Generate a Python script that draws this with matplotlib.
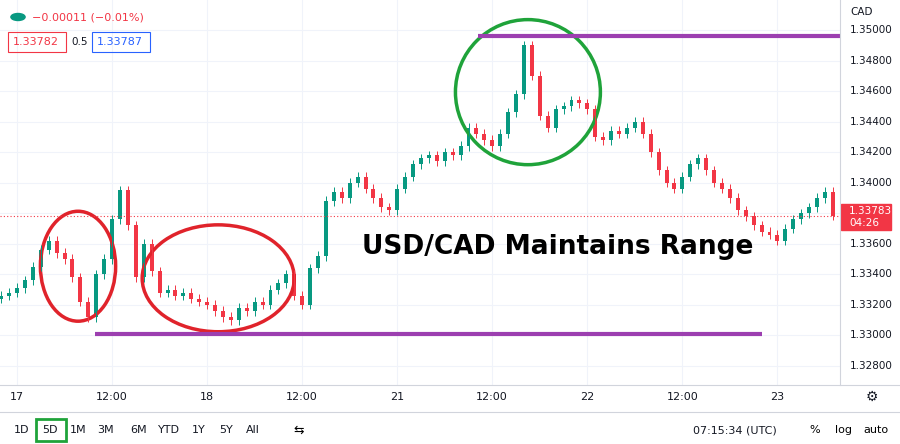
import matplotlib
matplotlib.use("Agg")
import matplotlib.pyplot as plt
from matplotlib.patches import Ellipse, Rectangle
import numpy as np

hours = list(range(-2, 104))
closes = [1.3326,1.3328,1.3331,1.3336,1.3345,1.3356,1.3362,1.3354,1.3350,1.3338,
          1.3322,1.3312,1.3340,1.3350,1.3376,1.3395,1.3372,1.3338,1.3360,1.3342,
          1.3328,1.3330,1.3326,1.3328,1.3324,1.3322,1.3320,1.3316,1.3312,1.3310,
          1.3318,1.3316,1.3322,1.3320,1.3330,1.3334,1.3340,1.3326,1.3320,1.3344,
          1.3352,1.3388,1.3394,1.3390,1.3400,1.3404,1.3396,1.3390,1.3384,1.3382,
          1.3396,1.3404,1.3412,1.3416,1.3418,1.3414,1.3420,1.3418,1.3424,1.3436,
          1.3432,1.3428,1.3424,1.3432,1.3446,1.3458,1.3490,1.3470,1.3444,1.3436,
          1.3448,1.3450,1.3454,1.3452,1.3448,1.3430,1.3428,1.3434,1.3432,1.3436,
          1.3440,1.3432,1.3420,1.3408,1.3400,1.3396,1.3404,1.3412,1.3416,1.3408,
          1.3400,1.3396,1.3390,1.3382,1.3378,1.3372,1.3368,1.3366,1.3362,1.3370,
          1.3376,1.3380,1.3384,1.3390,1.3394,1.33783]
tick_pos = [0, 12, 24, 36, 48, 60, 72, 84, 96]
tick_lbl = ["17", "12:00", "18", "12:00", "21", "12:00", "22", "12:00", "23"]
price_ticks = [1.328, 1.330, 1.332, 1.334, 1.336, 1.338, 1.340, 1.342, 1.344, 1.346, 1.348, 1.350]
range_low, range_high = 1.3301, 1.34961
last_price = 1.33783

fig = plt.figure(figsize=(9, 4.44), dpi=100)
ax = fig.add_axes([0, 59/444, 840/900, 385/444])
ylo = 1.35 - (385-30)/15270
yhi = 1.35 + 30/15270
ax.set_ylim(ylo, yhi)
ax.set_xlim(-2.15, 103.9)

up, dn = '#089981', '#f23645'
prev = closes[0] - 0.0002
for t, c in zip(hours, closes):
    o = prev
    col = up if c >= o else dn
    hi = max(o, c) + 0.0003
    lo = min(o, c) - 0.0003
    ax.vlines(t, lo, hi, color=col, lw=0.7)
    ax.add_patch(Rectangle((t-0.25, min(o, c)), 0.5, max(abs(c-o), 0.00003), color=col, lw=0))
    prev = c

for p in price_ticks:
    ax.axhline(p, color='#f0f3fa', lw=0.8, zorder=0)
for t in tick_pos:
    ax.axvline(t, color='#f0f3fa', lw=0.8, zorder=0)
ax.set_xticks([]); ax.set_yticks([])
for s in ax.spines.values():
    s.set_visible(False)

ax.axhline(last_price, color=dn, lw=0.8, ls=(0, (1, 2)))
ax.hlines(range_high, 58.2, 103.9, color='#9c3fb0', lw=3)
ax.hlines(range_low, 9.85, 94.1, color='#9c3fb0', lw=3)
ax.add_patch(Ellipse((7.7, 1.33453), 9.5, 0.0072, fill=False, ec='#e0232b', lw=2.5))
ax.add_patch(Ellipse((25.4, 1.33374), 19.2, 0.0070, fill=False, ec='#e0232b', lw=2.5))
ax.add_patch(Ellipse((64.5, 1.34593), 18.3, 0.0095, fill=False, ec='#1fa33a', lw=2.5))
ax.text(68.3, 1.33577, "USD/CAD Maintains Range", fontsize=19, fontweight='bold',
        ha='center', va='center', color='black')

# right price axis
fig.add_artist(plt.Line2D([840/900]*2, [59/444, 1], color='#d1d4dc', lw=0.8))
ly = 444 - (30 + (1.35 - last_price) * 15270)
for p in price_ticks:
    y = 444 - (30 + (1.35 - p) * 15270)
    if abs(y - ly) < 16:
        continue
    fig.text(850/900, y/444, f"{p:.5f}", fontsize=7.5, color='#131722', va='center')
fig.text(850/900, (444-12)/444, "CAD", fontsize=7.5, color='#131722', va='center')
fig.patches.append(Rectangle((841/900, (ly-14)/444), 50/900, 26/444, color=dn, transform=fig.transFigure))
fig.text(849/900, (ly+5)/444, "1.33783", fontsize=7.5, color='white', va='center')
fig.text(849/900, (ly-7)/444, "04:26", fontsize=7.5, color='white', va='center')

# time axis
fig.add_artist(plt.Line2D([0, 1], [59/444]*2, color='#d1d4dc', lw=0.8))
for t, l in zip(tick_pos, tick_lbl):
    x = 17 + 7.92 * t
    fig.text(x/900, (444-397)/444, l, fontsize=8, ha='center', va='center', color='#131722')
fig.text(872/900, (444-397)/444, "⚙", fontsize=10, ha='center', va='center', color='#131722')
fig.add_artist(plt.Line2D([0, 1], [(444-412)/444]*2, color='#d1d4dc', lw=0.8))

# toolbar
for x, l in [(22, "1D"), (50, "5D"), (78, "1M"), (106, "3M"), (139, "6M"), (169, "YTD"),
             (199, "1Y"), (226, "5Y"), (253, "All")]:
    fig.text(x/900, (444-430)/444, l, fontsize=8, ha='center', va='center', color='#131722')
fig.patches.append(Rectangle((36/900, (444-441)/444), 30/900, 22/444, fill=False, ec='#1fa33a', lw=2,
                             transform=fig.transFigure))
fig.text(299/900, (444-430)/444, "⇆", fontsize=9, ha='center', va='center')
fig.text(735/900, (444-430)/444, "07:15:34 (UTC)", fontsize=8, ha='center', va='center', color='#131722')
fig.text(815/900, (444-430)/444, "%", fontsize=8, ha='center', va='center')
fig.text(843/900, (444-430)/444, "log", fontsize=8, ha='center', va='center')
fig.text(876/900, (444-430)/444, "auto", fontsize=8, ha='center', va='center')

# top-left overlay
fig.patches.append(plt.Circle((18/900, (444-17)/444), 3.5/444, color='#089981', transform=fig.transFigure))
fig.text(32/900, (444-17)/444, "−0.00011 (−0.01%)", fontsize=8, color=dn, va='center')
fig.patches.append(Rectangle((8/900, (444-52)/444), 58/900, 20/444, fill=False, ec=dn, lw=0.8, transform=fig.transFigure))
fig.text(13/900, (444-42)/444, "1.33782", fontsize=8, color=dn, va='center')
fig.text(71/900, (444-42)/444, "0.5", fontsize=7.5, color='#131722', va='center')
fig.patches.append(Rectangle((92/900, (444-52)/444), 58/900, 20/444, fill=False, ec='#2962ff', lw=0.8, transform=fig.transFigure))
fig.text(97/900, (444-42)/444, "1.33787", fontsize=8, color='#2962ff', va='center')

fig.savefig("out.png", dpi=100)
